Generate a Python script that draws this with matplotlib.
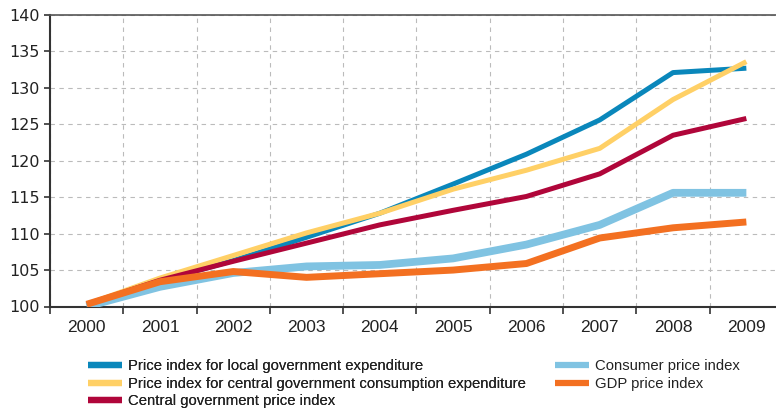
import numpy as np
import matplotlib
matplotlib.use("Agg")
import matplotlib.pyplot as plt

years = ["2000", "2001", "2002", "2003", "2004", "2005", "2006", "2007", "2008", "2009"]

local_gov = [100.3, 103.5, 106.3, 109.5, 112.8, 116.8, 120.9, 125.6, 132.1, 132.7]
central_cons = [100.3, 103.9, 107.0, 110.1, 112.8, 116.1, 118.7, 121.7, 128.4, 133.6]
central_price = [100.3, 103.6, 106.2, 108.7, 111.2, 113.2, 115.1, 118.2, 123.5, 125.8]
cpi = [100.0, 102.7, 104.6, 105.5, 105.7, 106.6, 108.5, 111.2, 115.6, 115.6]
gdp = [100.3, 103.4, 104.8, 104.0, 104.5, 105.0, 105.9, 109.4, 110.8, 111.6]

labels = ["Price index for local government expenditure",
          "Price index for central government consumption expenditure",
          "Central government price index",
          "Consumer price index",
          "GDP price index"]
colors = ["#0a87bb", "#ffd066", "#b0063a", "#80c3e2", "#f37021"]
widths = [3.6, 3.6, 3.6, 5.6, 5.0]

txt_font = "Liberation Sans"

fig = plt.figure(figsize=(7.76, 4.09), dpi=100)
ax = fig.add_axes([50 / 776, 1 - 306.5 / 409, 733 / 776, 291.5 / 409])

x = np.arange(len(years))
series = [local_gov, central_cons, central_price, cpi, gdp]
handles = []
for s, c, w, lab in zip(series, colors, widths, labels):
    h, = ax.plot(x, s, color=c, lw=w, label=lab, solid_capstyle="butt", zorder=3)
    handles.append(h)

ax.set_xlim(-0.5, 9.5)
ax.set_ylim(100, 140)
ax.set_yticks(np.arange(100, 141, 5))
ax.set_xticks(np.arange(-0.5, 9.6, 1))
ax.set_xticklabels([])
ax.set_xticks(x, minor=True)
ax.set_xticklabels(years, minor=True, fontsize=12.5, family=txt_font, color="#222222")
ax.tick_params(axis="x", which="minor", length=0, pad=10)
ax.tick_params(axis="x", which="major", length=5, width=1.2, color="#333333", direction="out")
ax.tick_params(axis="y", length=4, width=1.2, color="#333333", labelsize=11.5, labelcolor="#222222")

ax.grid(True, which="major", linestyle=(0, (4, 4)), color="#bbbbbb", lw=0.8, zorder=0)
for sp in ["left", "bottom"]:
    ax.spines[sp].set_linewidth(1.5)
    ax.spines[sp].set_color("#333333")
ax.spines["top"].set_linewidth(1.2)
ax.spines["top"].set_color("#555555")
ax.spines["right"].set_visible(False)

leg_kw = dict(loc="upper left", frameon=False, prop={"family": txt_font, "size": 10.7},
              handlelength=2.3, handletextpad=0.4, labelspacing=0.25,
              borderaxespad=0, borderpad=0)
leg1 = fig.legend(handles[:3], labels[:3], bbox_to_anchor=(88 / 776, 1 - 359 / 409), **leg_kw)
leg2 = fig.legend(handles[3:], labels[3:], bbox_to_anchor=(555 / 776, 1 - 359 / 409), **leg_kw)
for lg in (leg1, leg2):
    for ln in lg.get_lines():
        ln.set_linewidth(4.5)
    for t in lg.get_texts():
        t.set_color("#222222")
fig.add_artist(leg1)

fig.savefig("out.png", dpi=100)
